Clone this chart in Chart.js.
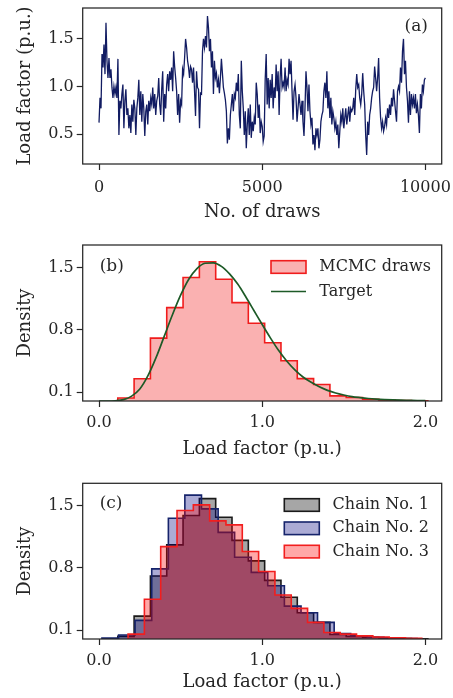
<!DOCTYPE html>
<html>
<head>
<meta charset="utf-8">
<script src="https://cdn.jsdelivr.net/npm/chart.js@4.4.1/dist/chart.umd.min.js"></script>
<style>
  html, body { margin: 0; padding: 0; background: #fff; }
  #wrap { position: relative; width: 453px; height: 698px; }
  #wrap div { position: absolute; left: 0; width: 453px; }
  canvas { display: block; }
</style>
</head>
<body>
<div id="wrap">
  <div style="top:0;height:225px"><canvas id="chartA" width="453" height="225"></canvas></div>
  <div style="top:225px;height:235px"><canvas id="chartB" width="453" height="235"></canvas></div>
  <div style="top:460px;height:238px"><canvas id="chartC" width="453" height="238"></canvas></div>
</div>
<script>
// (a) trace of the sampler (thinned)
var traceValues = [
  0.62, 0.88, 0.77, 1.34, 1.2, 1.44, 1.13, 1.67, 1.27, 1.09,
  1.3, 1.09, 1.18, 0.99, 0.88, 1.0, 0.92, 0.99, 0.88, 1.29,
  0.49, 0.85, 0.77, 0.92, 1.02, 0.56, 0.85, 0.97, 0.7, 0.77,
  0.56, 0.7, 0.51, 0.81, 0.63, 0.86, 0.77, 0.49, 0.77, 0.88,
  1.07, 0.7, 0.95, 0.63, 0.92, 0.77, 0.48, 0.74, 0.81, 0.6,
  0.85, 0.74, 0.88, 0.81, 0.99, 0.77, 0.92, 0.7, 0.85, 0.9,
  1.09, 0.81, 0.7, 0.97, 1.16, 0.63, 0.92, 0.77, 1.02, 1.13,
  0.95, 1.16, 1.07, 1.2, 0.95, 1.37, 1.21, 1.09, 0.95, 0.7,
  0.92, 0.62, 0.85,
  0.81, 1.18, 1.13, 1.3, 1.5, 1.41, 1.27, 1.2, 1.09, 1.21,
  1.18, 1.04, 1.2, 0.95, 0.69, 1.16, 0.99, 0.97, 0.56, 0.93,
  0.92, 1.37, 1.5, 1.41, 1.53, 1.41, 1.74, 1.62, 1.37, 1.5,
  1.2, 1.37, 0.92, 1.27, 1.09, 1.14, 0.99, 1.07, 0.93, 1.09,
  1.29, 1.14, 0.99, 0.93, 0.86, 0.74, 0.4, 0.56, 0.44, 0.7,
  0.81, 0.92, 0.74, 0.92, 0.88, 1.04, 0.95, 1.13, 0.7, 0.56,
  1.27, 0.95, 0.77, 0.49, 0.74, 0.35, 0.6, 0.77, 0.49, 0.81,
  0.46, 0.63, 0.53, 0.67, 0.6, 1.04, 0.92, 0.67, 0.81, 0.51,
  0.63, 0.58, 0.42, 0.48, 1.07, 1.34,
  0.81, 1.09, 0.77, 1.07, 0.88, 1.13, 0.77, 0.99, 0.88, 1.23,
  0.95, 1.16, 0.7, 1.09, 1.29, 0.99, 1.04, 0.99, 1.2, 0.95,
  1.07, 1.02, 1.29, 1.13, 1.27, 0.95, 0.65, 0.95, 1.02, 0.88,
  0.63, 0.77, 0.92, 0.81, 0.7, 0.85, 0.63, 0.48, 0.77, 1.16,
  0.99, 0.74, 1.02, 0.74, 0.6, 0.67, 0.39, 0.49, 0.33, 0.56,
  0.49, 0.56, 0.35, 0.44, 0.63, 0.7, 0.74, 0.95, 1.04, 0.88,
  1.16, 0.77, 0.95, 0.67, 0.88, 0.6, 0.74, 0.67, 0.56, 0.63,
  0.49, 0.6, 0.35, 0.53, 0.7, 0.63, 0.77, 0.56, 0.67, 0.77,
  0.6, 0.7, 0.79, 0.63, 0.77, 0.74,
  0.77, 0.88, 0.7, 0.97, 1.13, 0.99, 1.02, 0.88, 0.81, 0.92,
  1.14, 0.95, 0.81, 0.49, 0.28, 0.63, 0.49, 0.7, 0.77, 0.88,
  0.95, 0.99, 1.21, 1.09, 0.95, 1.09, 1.3, 0.88, 0.67, 0.56,
  0.63, 0.53, 0.58, 0.67, 0.6, 0.77, 0.67, 0.81, 0.7, 0.88,
  0.79, 0.97, 0.85, 0.74, 0.63, 0.95, 1.0, 0.95, 1.2, 1.04,
  1.37, 1.5, 1.13, 1.27, 0.99, 0.85, 0.62, 0.95, 0.7, 0.92,
  0.81, 0.88, 0.77, 0.92, 0.72, 0.81, 0.7, 0.51, 0.92, 0.77,
  1.02, 0.95, 1.07, 1.09
];
var totalDraws = 10000;
var traceTicksX = [0, 5000, 10000];
var traceTicksY = [0.5, 1.0, 1.5];

// (b) histogram of all draws and the target density
var edgesB = [0.115, 0.215, 0.315, 0.415, 0.515, 0.615, 0.715, 0.815, 0.915, 1.015,
              1.115, 1.215, 1.315, 1.415, 1.515, 1.615, 1.715, 1.815, 1.915, 2.015];
var heightsB = [0.033, 0.25, 0.707, 1.05, 1.39, 1.567, 1.37, 1.107, 0.875, 0.655,
                0.452, 0.252, 0.186, 0.058, 0.04, 0.02, 0.012, 0.006, 0.003];
var targetX = [0, 0.05, 0.1, 0.15, 0.2, 0.25, 0.3, 0.35, 0.4, 0.45, 0.5, 0.55, 0.6, 0.65,
               0.7, 0.75, 0.8, 0.85, 0.9, 0.95, 1.0, 1.05, 1.1, 1.15, 1.2, 1.25, 1.3, 1.35,
               1.4, 1.45, 1.5, 1.55, 1.6, 1.65, 1.7, 1.75, 1.8, 1.85, 1.9, 1.95, 2.0];
var targetY = [0, 0, 0.003, 0.015, 0.055, 0.135, 0.285, 0.49, 0.73, 0.97, 1.19, 1.37, 1.49, 1.55,
               1.555, 1.515, 1.43, 1.315, 1.17, 1.015, 0.86, 0.71, 0.57, 0.45, 0.35, 0.27, 0.21, 0.16,
               0.12, 0.09, 0.068, 0.05, 0.038, 0.028, 0.021, 0.016, 0.012, 0.009, 0.007, 0.005, 0.004];
var legendB = ['MCMC draws', 'Target'];

// (c) histograms of the three chains
var edgesC1 = [0.115, 0.215, 0.315, 0.415, 0.515, 0.615, 0.715, 0.815, 0.915, 1.015,
               1.115, 1.215, 1.315, 1.415, 1.515, 1.615, 1.715, 1.815, 1.915, 2.015];
var heightsC1 = [0.03, 0.258, 0.71, 1.06, 1.39, 1.58, 1.37, 1.11, 0.88, 0.66,
                 0.47, 0.296, 0.187, 0.05, 0.03, 0.02, 0.012, 0.006, 0.003];
var edgesC2 = [0.018, 0.12, 0.221, 0.323, 0.425, 0.526, 0.628, 0.73, 0.831, 0.933,
               1.034, 1.136, 1.238, 1.339, 1.441, 1.542, 1.644, 1.746, 1.847, 1.949];
var heightsC2 = [0.01, 0.045, 0.21, 0.79, 1.36, 1.62, 1.465, 1.2, 0.92, 0.75,
                 0.6, 0.37, 0.296, 0.187, 0.06, 0.035, 0.02, 0.012, 0.006];
var edgesC3 = [0.178, 0.278, 0.378, 0.478, 0.578, 0.678, 0.778, 0.878, 0.978, 1.078,
               1.178, 1.278, 1.378, 1.478, 1.578, 1.678, 1.778, 1.878, 1.978];
var heightsC3 = [0.055, 0.447, 1.04, 1.447, 1.51, 1.33, 1.285, 0.985, 0.76, 0.495,
                 0.345, 0.187, 0.074, 0.055, 0.035, 0.022, 0.014, 0.009];
var chainNames = ['Chain No. 1', 'Chain No. 2', 'Chain No. 3'];

var histTicksX = [0.0, 1.0, 2.0];
var histTicksY = [0.1, 0.8, 1.5];
var panelTags = ['(a)', '(b)', '(c)'];

var INK = '#262626';
var FONT = '"DejaVu Serif", serif';
Chart.defaults.font.family = FONT;
Chart.defaults.color = INK;

function stepPoints(edges, heights) {
  var pts = [{x: edges[0], y: 0}];
  heights.forEach(function(h, i) {
    pts.push({x: edges[i], y: h});
    pts.push({x: edges[i + 1], y: h});
  });
  pts.push({x: edges[edges.length - 1], y: 0});
  return pts;
}

function fixTicks(list) {
  return function(s) { s.ticks = list.map(function(v) { return {value: v}; }); };
}

var tickGrid = { drawOnChartArea: false, tickLength: 6, tickColor: INK, tickWidth: 1.2 };

function xAxis(min, max, list, fmt, title, h, tickPad, titlePad) {
  return {
    type: 'linear', min: min, max: max,
    afterBuildTicks: fixTicks(list),
    afterFit: function(s) { s.height = h; s.paddingLeft = 0; s.paddingRight = 0; },
    grid: tickGrid,
    border: { display: false },
    ticks: { font: { size: 16, lineHeight: 1 }, padding: tickPad, maxRotation: 0, autoSkip: false, callback: fmt },
    title: { display: true, text: title, font: { size: 18, lineHeight: 1 }, padding: { top: 0, bottom: titlePad } }
  };
}

function yAxis(min, max, list, title) {
  return {
    type: 'linear', min: min, max: max,
    afterBuildTicks: fixTicks(list),
    afterFit: function(s) { s.width = 82.7; s.paddingTop = 0; s.paddingBottom = 0; },
    grid: tickGrid,
    border: { display: false },
    ticks: { font: { size: 16, lineHeight: 1 }, padding: 3, autoSkip: false,
             callback: function(v) { return Number(v).toFixed(1); } },
    title: { display: true, text: title, font: { size: 18, lineHeight: 1 }, padding: { top: 16, bottom: 0 } }
  };
}

// frame on all four sides, panel tag and an in-axes legend
var framePlugin = {
  id: 'frame',
  afterDraw: function(chart, args, o) {
    var ctx = chart.ctx, a = chart.chartArea;
    ctx.save();
    ctx.strokeStyle = INK;
    ctx.lineWidth = 1.25;
    ctx.strokeRect(a.left, a.top, a.right - a.left, a.bottom - a.top);
    ctx.fillStyle = INK;
    ctx.font = '17px ' + FONT;
    ctx.textBaseline = 'middle';
    if (o.tagSide === 'right') {
      ctx.textAlign = 'right';
      ctx.fillText(o.tag, a.right - o.tagDx, a.top + o.tagDy);
    } else {
      ctx.textAlign = 'left';
      ctx.fillText(o.tag, a.left + o.tagDx, a.top + o.tagDy);
    }
    if (o.legend) {
      var L = o.legend;
      var items = chart.data.datasets.filter(function(d) { return d.legendRow != null; })
        .sort(function(p, q) { return p.legendRow - q.legendRow; });
      ctx.font = '16px ' + FONT;
      ctx.textAlign = 'left';
      items.forEach(function(d, i) {
        var bx = a.right - L.boxRight, cy = a.top + L.top + i * L.gap;
        if (d.fill) {
          ctx.fillStyle = d.backgroundColor;
          ctx.fillRect(bx, cy - 6.3, 35, 12.6);
          ctx.strokeStyle = d.borderColor;
          ctx.lineWidth = d.borderWidth;
          ctx.strokeRect(bx, cy - 6.3, 35, 12.6);
        } else {
          ctx.strokeStyle = d.borderColor;
          ctx.lineWidth = d.borderWidth;
          ctx.beginPath();
          ctx.moveTo(bx, cy);
          ctx.lineTo(bx + 35, cy);
          ctx.stroke();
        }
        ctx.fillStyle = INK;
        ctx.fillText(d.label, bx + 48.3, cy);
      });
    }
    ctx.restore();
  }
};

var baseOpts = {
  responsive: false,
  animation: false,
  devicePixelRatio: 1,
  events: []
};

// ---- (a) trace
var step = totalDraws / (traceValues.length - 1);
var tracePts = traceValues.map(function(v, i) { return {x: i * step, y: v}; });

new Chart(document.getElementById('chartA'), {
  type: 'line',
  data: { datasets: [{
    data: tracePts, borderColor: '#121c62', borderWidth: 1.3, pointRadius: 0, tension: 0, fill: false
  }]},
  options: Object.assign({}, baseOpts, {
    layout: { padding: { top: 8, right: 11.3, left: 0, bottom: 0 } },
    scales: {
      x: xAxis(-500, 10500, traceTicksX, function(v) { return String(v); }, 'No. of draws', 61, 9.5, 4),
      y: yAxis(0.185, 1.825, traceTicksY, 'Load factor (p.u.)')
    },
    plugins: {
      legend: { display: false }, tooltip: { enabled: false },
      frame: { tag: panelTags[0], tagSide: 'right', tagDx: 13.7, tagDy: 19 }
    }
  }),
  plugins: [framePlugin]
});

// ---- (b) histogram + target
new Chart(document.getElementById('chartB'), {
  type: 'line',
  data: { datasets: [
    { label: legendB[1], legendRow: 1,
      data: targetX.map(function(x, i) { return {x: x, y: targetY[i]}; }),
      borderColor: '#1d5a27', borderWidth: 1.7, pointRadius: 0, cubicInterpolationMode: 'monotone', fill: false },
    { label: legendB[0], legendRow: 0,
      data: stepPoints(edgesB, heightsB),
      borderColor: '#f01c1c', backgroundColor: 'rgba(240, 40, 40, 0.36)', borderWidth: 1.6,
      borderJoinStyle: 'miter', pointRadius: 0, tension: 0, fill: 'origin' }
  ]},
  options: Object.assign({}, baseOpts, {
    layout: { padding: { top: 20, right: 11.3, left: 0, bottom: 0 } },
    scales: {
      x: xAxis(-0.1, 2.1, histTicksX, function(v) { return Number(v).toFixed(1); }, 'Load factor (p.u.)', 59, 8.3, 2),
      y: yAxis(0, 1.755, histTicksY, 'Density')
    },
    plugins: {
      legend: { display: false }, tooltip: { enabled: false },
      frame: { tag: panelTags[1], tagSide: 'left', tagDx: 17, tagDy: 21.5,
               legend: { boxRight: 170.7, top: 22, gap: 24.5 } }
    }
  }),
  plugins: [framePlugin]
});

// ---- (c) chains
new Chart(document.getElementById('chartC'), {
  type: 'line',
  data: { datasets: [
    { label: chainNames[2], legendRow: 2, data: stepPoints(edgesC3, heightsC3),
      borderColor: '#f21e1e', backgroundColor: 'rgba(255, 0, 0, 0.34)', borderWidth: 1.6,
      borderJoinStyle: 'miter', pointRadius: 0, tension: 0, fill: 'origin' },
    { label: chainNames[1], legendRow: 1, data: stepPoints(edgesC2, heightsC2),
      borderColor: '#15236b', backgroundColor: 'rgba(0, 0, 128, 0.33)', borderWidth: 1.6,
      borderJoinStyle: 'miter', pointRadius: 0, tension: 0, fill: 'origin' },
    { label: chainNames[0], legendRow: 0, data: stepPoints(edgesC1, heightsC1),
      borderColor: '#1a1a1a', backgroundColor: 'rgba(128, 128, 128, 0.7)', borderWidth: 1.6,
      borderJoinStyle: 'miter', pointRadius: 0, tension: 0, fill: 'origin' }
  ]},
  options: Object.assign({}, baseOpts, {
    layout: { padding: { top: 23.3, right: 11.3, left: 0, bottom: 0 } },
    scales: {
      x: xAxis(-0.1, 2.1, histTicksX, function(v) { return Number(v).toFixed(1); }, 'Load factor (p.u.)', 59, 8, 6.5),
      y: yAxis(0, 1.753, histTicksY, 'Density')
    },
    plugins: {
      legend: { display: false }, tooltip: { enabled: false },
      frame: { tag: panelTags[2], tagSide: 'left', tagDx: 17, tagDy: 20,
               legend: { boxRight: 157.4, top: 21.7, gap: 23.3 } }
    }
  }),
  plugins: [framePlugin]
});
</script>
</body>
</html>
